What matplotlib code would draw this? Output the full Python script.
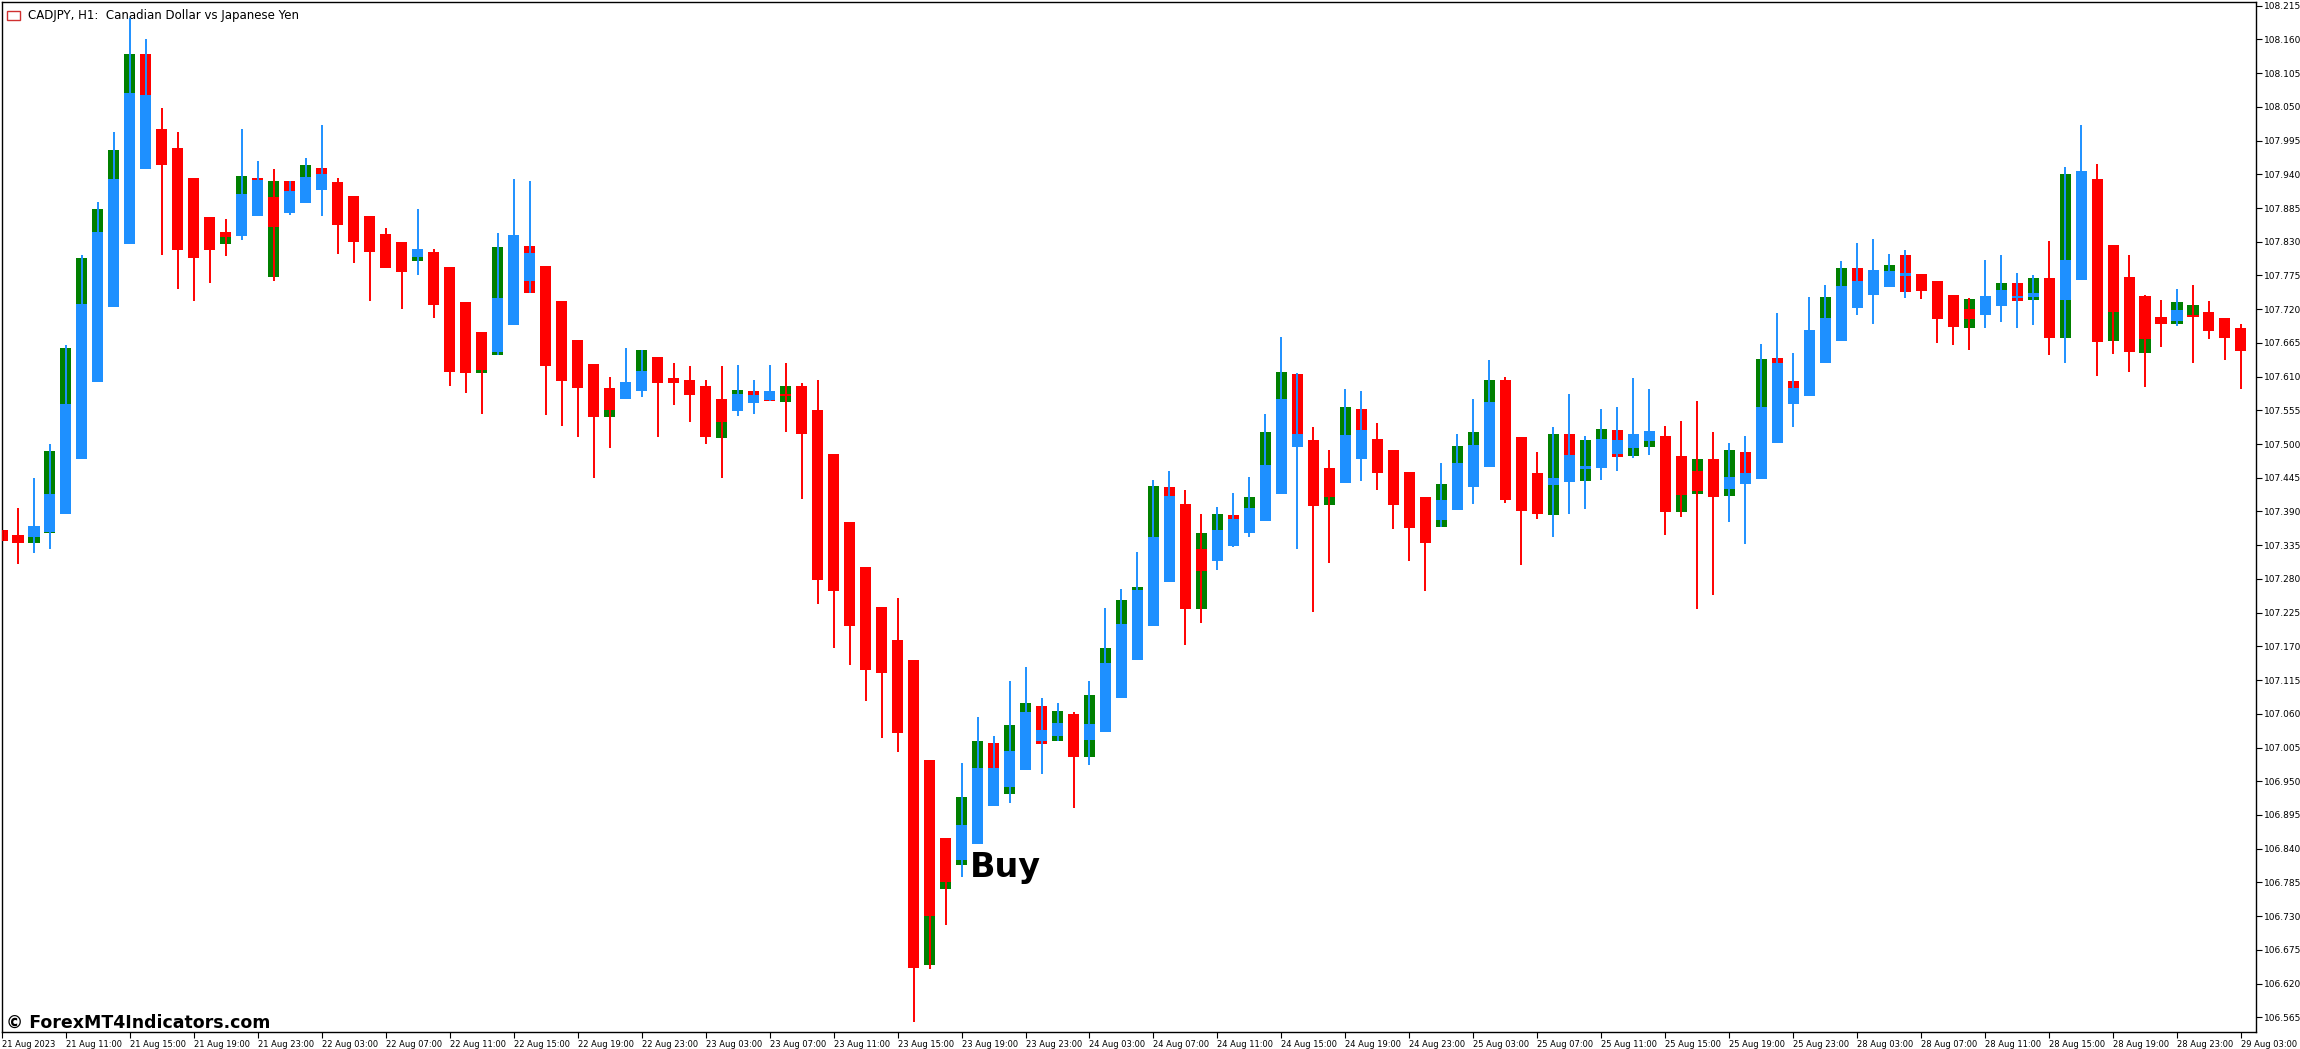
import matplotlib
matplotlib.use("Agg")
import matplotlib.pyplot as plt
import numpy as np

# CADJPY H1 candles, 21 Aug 07:00 -> 29 Aug 03:00
opens = [
    107.360, 107.352, 107.339, 107.355, 107.386, 107.476, 107.601, 107.724, 107.826, 108.136,
    108.014, 107.983, 107.934, 107.870, 107.826, 107.839, 107.934, 107.773, 107.929, 107.893,
    107.950, 107.927, 107.905, 107.872, 107.843, 107.830, 107.799, 107.813, 107.789, 107.732,
    107.683, 107.645, 107.694, 107.823, 107.790, 107.733, 107.670, 107.631, 107.592, 107.574,
    107.587, 107.642, 107.608, 107.605, 107.595, 107.574, 107.554, 107.587, 107.587, 107.569,
    107.595, 107.556, 107.484, 107.373, 107.300, 107.235, 107.181, 107.148, 106.985, 106.858,
    106.814, 106.848, 107.013, 106.930, 106.969, 107.073, 107.016, 107.059, 106.989, 107.031,
    107.086, 107.147, 107.204, 107.430, 107.403, 107.231, 107.310, 107.385, 107.355, 107.375,
    107.419, 107.614, 107.507, 107.461, 107.437, 107.557, 107.508, 107.491, 107.455, 107.414,
    107.365, 107.393, 107.430, 107.463, 107.605, 107.512, 107.453, 107.385, 107.517, 107.440,
    107.461, 107.523, 107.481, 107.495, 107.513, 107.481, 107.419, 107.476, 107.416, 107.487,
    107.443, 107.640, 107.603, 107.579, 107.632, 107.668, 107.787, 107.743, 107.756, 107.808,
    107.777, 107.766, 107.743, 107.689, 107.711, 107.725, 107.763, 107.735, 107.771, 107.673,
    107.768, 107.932, 107.825, 107.773, 107.741, 107.707, 107.696, 107.707, 107.715, 107.706,
    107.689,
]
closes = [
    107.342, 107.339, 107.367, 107.489, 107.657, 107.803, 107.883, 107.979, 108.136, 107.949,
    107.955, 107.817, 107.803, 107.817, 107.846, 107.937, 107.872, 107.929, 107.877, 107.955,
    107.914, 107.857, 107.830, 107.813, 107.787, 107.781, 107.818, 107.727, 107.618, 107.616,
    107.616, 107.821, 107.841, 107.746, 107.627, 107.603, 107.592, 107.544, 107.544, 107.601,
    107.654, 107.600, 107.600, 107.580, 107.512, 107.510, 107.588, 107.567, 107.570, 107.595,
    107.517, 107.279, 107.261, 107.204, 107.132, 107.127, 107.029, 106.646, 106.651, 106.775,
    106.925, 107.015, 106.910, 107.041, 107.077, 107.010, 107.065, 106.990, 107.091, 107.168,
    107.246, 107.267, 107.432, 107.275, 107.231, 107.355, 107.386, 107.334, 107.414, 107.520,
    107.618, 107.495, 107.399, 107.401, 107.561, 107.476, 107.453, 107.401, 107.363, 107.339,
    107.435, 107.497, 107.520, 107.605, 107.409, 107.391, 107.386, 107.517, 107.438, 107.507,
    107.525, 107.479, 107.517, 107.521, 107.389, 107.389, 107.476, 107.414, 107.491, 107.435,
    107.639, 107.502, 107.566, 107.686, 107.740, 107.787, 107.722, 107.784, 107.792, 107.748,
    107.750, 107.704, 107.691, 107.737, 107.741, 107.763, 107.733, 107.771, 107.673, 107.940,
    107.945, 107.667, 107.668, 107.650, 107.649, 107.696, 107.732, 107.727, 107.684, 107.673,
    107.652,
]
highs = [
    107.360, 107.396, 107.445, 107.500, 107.662, 107.808, 107.895, 108.009, 108.195, 108.160,
    108.048, 108.009, 107.934, 107.870, 107.867, 108.014, 107.962, 107.949, 107.929, 107.966,
    108.020, 107.934, 107.905, 107.872, 107.852, 107.830, 107.883, 107.818, 107.789, 107.732,
    107.683, 107.844, 107.932, 107.929, 107.790, 107.733, 107.670, 107.631, 107.609, 107.657,
    107.654, 107.642, 107.632, 107.627, 107.605, 107.627, 107.629, 107.605, 107.629, 107.632,
    107.600, 107.605, 107.484, 107.373, 107.300, 107.235, 107.249, 107.148, 106.985, 106.858,
    106.979, 107.055, 107.023, 107.114, 107.137, 107.086, 107.078, 107.063, 107.114, 107.233,
    107.264, 107.324, 107.442, 107.456, 107.425, 107.386, 107.398, 107.420, 107.446, 107.549,
    107.675, 107.616, 107.528, 107.491, 107.590, 107.587, 107.535, 107.491, 107.455, 107.414,
    107.469, 107.517, 107.574, 107.637, 107.609, 107.512, 107.487, 107.528, 107.582, 107.513,
    107.557, 107.561, 107.608, 107.590, 107.530, 107.538, 107.570, 107.520, 107.502, 107.513,
    107.663, 107.714, 107.649, 107.740, 107.759, 107.799, 107.828, 107.834, 107.810, 107.816,
    107.777, 107.766, 107.743, 107.738, 107.800, 107.808, 107.779, 107.776, 107.831, 107.952,
    108.020, 107.957, 107.825, 107.808, 107.743, 107.735, 107.753, 107.759, 107.733, 107.706,
    107.696,
]
lows = [
    107.342, 107.305, 107.323, 107.328, 107.386, 107.476, 107.601, 107.724, 107.826, 107.949,
    107.808, 107.753, 107.733, 107.763, 107.807, 107.833, 107.872, 107.766, 107.874, 107.893,
    107.872, 107.810, 107.795, 107.733, 107.787, 107.720, 107.776, 107.706, 107.595, 107.583,
    107.549, 107.645, 107.694, 107.746, 107.548, 107.530, 107.512, 107.445, 107.494, 107.574,
    107.577, 107.512, 107.564, 107.536, 107.500, 107.445, 107.546, 107.549, 107.570, 107.520,
    107.411, 107.239, 107.168, 107.140, 107.081, 107.021, 106.997, 106.558, 106.643, 106.715,
    106.794, 106.848, 106.910, 106.915, 106.969, 106.962, 107.016, 106.907, 106.977, 107.031,
    107.086, 107.147, 107.204, 107.275, 107.173, 107.208, 107.295, 107.332, 107.349, 107.375,
    107.419, 107.328, 107.226, 107.306, 107.437, 107.440, 107.425, 107.362, 107.310, 107.261,
    107.365, 107.393, 107.403, 107.463, 107.404, 107.303, 107.378, 107.349, 107.386, 107.394,
    107.442, 107.456, 107.477, 107.482, 107.352, 107.381, 107.231, 107.253, 107.373, 107.337,
    107.443, 107.502, 107.528, 107.579, 107.632, 107.668, 107.711, 107.696, 107.756, 107.738,
    107.737, 107.665, 107.662, 107.654, 107.689, 107.699, 107.689, 107.694, 107.645, 107.632,
    107.768, 107.611, 107.647, 107.618, 107.593, 107.658, 107.693, 107.632, 107.671, 107.637,
    107.590,
]
# indicator overlay box painted over each candle body: (top, bottom, colour code)
overlays = [
    None, None, (107.367, 107.349, "b"), (107.419, 107.357, "b"), (107.565, 107.386, "b"),
    (107.728, 107.476, "b"), (107.846, 107.601, "b"), (107.932, 107.724, "b"), (108.072, 107.826, "b"), (108.069, 107.949, "b"),
    None, None, None, None, (107.846, 107.838, "r"),
    (107.908, 107.839, "b"), (107.931, 107.872, "b"), (107.903, 107.854, "r"), (107.913, 107.877, "b"), (107.936, 107.893, "b"),
    (107.940, 107.914, "b"), None, None, None, None, None, (107.818, 107.805, "b"), None, None, None,
    (107.621, 107.616, "g"), (107.738, 107.650, "b"), (107.841, 107.694, "b"), (107.812, 107.766, "b"), None,
    None, None, None, (107.556, 107.544, "g"), (107.601, 107.574, "b"),
    (107.619, 107.587, "b"), None, None, None, None,
    (107.536, 107.510, "g"), (107.582, 107.554, "b"), (107.580, 107.567, "b"), (107.587, 107.572, "b"), (107.582, 107.579, "r"),
    None, None, None, None, None, None, None, None, (106.731, 106.651, "g"), (106.785, 106.775, "g"),
    (106.879, 106.821, "b"), (106.972, 106.848, "b"), (106.972, 106.910, "b"), (107.000, 106.940, "b"), (107.063, 106.969, "b"),
    (107.034, 107.015, "b"), (107.045, 107.024, "b"), None, (107.044, 107.018, "b"), (107.143, 107.031, "b"),
    (107.207, 107.086, "b"), (107.262, 107.147, "b"), (107.349, 107.204, "b"), (107.416, 107.275, "b"), None,
    (107.328, 107.293, "r"), (107.360, 107.310, "b"), (107.378, 107.334, "b"), (107.396, 107.355, "b"), (107.466, 107.375, "b"),
    (107.574, 107.419, "b"), (107.517, 107.495, "b"), None, (107.414, 107.401, "g"), (107.515, 107.437, "b"),
    (107.523, 107.476, "b"), None, None, None, None,
    (107.409, 107.376, "b"), (107.469, 107.393, "b"), (107.499, 107.430, "b"), (107.569, 107.463, "b"), None,
    None, None, (107.445, 107.433, "b"), (107.482, 107.438, "b"), (107.464, 107.460, "b"),
    (107.508, 107.461, "b"), (107.507, 107.484, "b"), (107.517, 107.494, "b"), (107.521, 107.505, "b"), None,
    (107.417, 107.389, "g"), (107.456, 107.424, "r"), None, (107.446, 107.427, "b"), (107.453, 107.435, "b"),
    (107.561, 107.443, "b"), (107.632, 107.502, "b"), (107.592, 107.566, "b"), (107.686, 107.579, "b"), (107.706, 107.632, "b"),
    (107.758, 107.668, "b"), (107.766, 107.722, "b"), (107.784, 107.743, "b"), (107.782, 107.756, "b"), (107.779, 107.774, "b"),
    None, None, None, (107.720, 107.704, "r"), (107.741, 107.711, "b"),
    (107.751, 107.725, "b"), (107.741, 107.738, "b"), (107.746, 107.740, "b"), None, (107.800, 107.735, "b"),
    (107.945, 107.768, "b"), None, (107.715, 107.668, "g"), None, (107.671, 107.649, "g"),
    None, (107.719, 107.701, "b"), (107.711, 107.707, "r"), None, None,
    None,
]
tick_labels = [
    "21 Aug 2023", "21 Aug 11:00", "21 Aug 15:00", "21 Aug 19:00", "21 Aug 23:00",
    "22 Aug 03:00", "22 Aug 07:00", "22 Aug 11:00", "22 Aug 15:00", "22 Aug 19:00", "22 Aug 23:00",
    "23 Aug 03:00", "23 Aug 07:00", "23 Aug 11:00", "23 Aug 15:00", "23 Aug 19:00", "23 Aug 23:00",
    "24 Aug 03:00", "24 Aug 07:00", "24 Aug 11:00", "24 Aug 15:00", "24 Aug 19:00", "24 Aug 23:00",
    "25 Aug 03:00", "25 Aug 07:00", "25 Aug 11:00", "25 Aug 15:00", "25 Aug 19:00", "25 Aug 23:00",
    "28 Aug 03:00", "28 Aug 07:00", "28 Aug 11:00", "28 Aug 15:00", "28 Aug 19:00", "28 Aug 23:00",
    "29 Aug 03:00",
]
price_ticks = [106.565 + 0.055 * i for i in range(31)]

COLORS = {"r": "#ff0000", "g": "#008000", "b": "#1e90ff"}
assert len(opens) == len(closes) == len(highs) == len(lows) == len(overlays)

W, H = 2300, 1049
fig = plt.figure(figsize=(W / 100, H / 100), dpi=100)
ax = fig.add_axes([2 / W, 17 / H, 2254 / W, 1030 / H])

x = np.arange(len(opens))
o = np.array(opens)
c = np.array(closes)
body_col = [COLORS["g"] if cc > oo else COLORS["r"] for oo, cc in zip(o, c)]
wick_col = [COLORS["b"] if ov is not None and ov[2] == "b" else COLORS["r"] for ov in overlays]

width = 0.69
ax.bar(x, np.abs(c - o), bottom=np.minimum(o, c), width=width, color=body_col, linewidth=0, zorder=2)
ov_idx = [i for i, ov in enumerate(overlays) if ov is not None]
ax.bar([x[i] for i in ov_idx], [overlays[i][0] - overlays[i][1] for i in ov_idx],
       bottom=[overlays[i][1] for i in ov_idx], width=width,
       color=[COLORS[overlays[i][2]] for i in ov_idx], linewidth=0, zorder=3)
ax.vlines(x, lows, highs, colors=wick_col, linewidth=1.4, zorder=4)

ax.set_xlim(0.06, 140.94)
ax.set_ylim(106.541, 108.221)

ax.yaxis.tick_right()
ax.set_yticks(price_ticks)
ax.set_yticklabels([f"{p:.3f}" for p in price_ticks], fontsize=6.5)
ax.set_xticks(np.arange(0, len(opens), 4))
ax.set_xticklabels(tick_labels, fontsize=6, ha="left")
ax.tick_params(axis="both", length=4, width=0.8, pad=1.5, colors="black")
for sp in ax.spines.values():
    sp.set_linewidth(1.0)

# header
ax.text(26 / 2254, 1 - 13 / 1030, "CADJPY, H1:  Canadian Dollar vs Japanese Yen", transform=ax.transAxes,
        fontsize=8.5, va="center", ha="left")
fig.patches.append(plt.Rectangle((7 / W, 1 - 20 / H), 13 / W, 9 / H, transform=fig.transFigure,
                                 facecolor="white", edgecolor="#d03030", linewidth=1))

ax.text(60.5, 106.793, "Buy", fontsize=24, fontweight="bold", ha="left", va="baseline", zorder=5)
fig.text(6 / W, 1 - 1028 / H, "\u00a9 ForexMT4Indicators.com", fontsize=12.5, fontweight="bold",
         ha="left", va="baseline")

fig.savefig("out.png", dpi=100, facecolor="white")
